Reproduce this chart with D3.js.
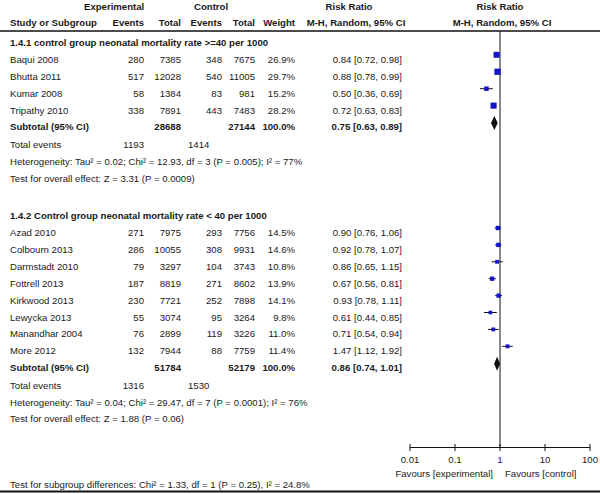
<!DOCTYPE html>
<html><head><meta charset="utf-8">
<script src="https://cdn.jsdelivr.net/npm/d3@7"></script>
<style>
html,body{margin:0;padding:0;background:#fff;}
text{font-family:"Liberation Sans",Arial,Helvetica,sans-serif;font-size:9.6px;fill:#1a1a1a;}
.b{font-weight:bold;}
</style></head><body>
<svg id="c" width="600" height="494"></svg>
<script>
// ---- data ----
const sectionTitles = ["1.4.1 control group neonatal mortality rate >=40 per 1000", "1.4.2 Control group neonatal mortality rate < 40 per 1000"];
const studies1 = ["Baqui 2008","Bhutta 2011","Kumar 2008","Tripathy 2010"];
const expEvents1 = [280,517,58,338];
const expTotal1 = [7385,12028,1384,7891];
const ctlEvents1 = [348,540,83,443];
const ctlTotal1 = [7675,11005,981,7483];
const weight1 = [26.9,29.7,15.2,28.2];
const rr1 = [0.84,0.88,0.50,0.72];
const lo1 = [0.72,0.78,0.36,0.63];
const hi1 = [0.98,0.99,0.69,0.83];

const studies2 = ["Azad 2010","Colbourn 2013","Darmstadt 2010","Fottrell 2013","Kirkwood 2013","Lewycka 2013","Manandhar 2004","More 2012"];
const expEvents2 = [271,286,79,187,230,55,76,132];
const expTotal2 = [7975,10055,3297,8819,7721,3074,2899,7944];
const ctlEvents2 = [293,308,104,271,252,95,119,88];
const ctlTotal2 = [7756,9931,3743,8602,7898,3264,3226,7759];
const weight2 = [14.5,14.6,10.8,13.9,14.1,9.8,11.0,11.4];
const rr2 = [0.90,0.92,0.86,0.67,0.93,0.61,0.71,1.47];
const lo2 = [0.76,0.78,0.65,0.56,0.78,0.44,0.54,1.12];
const hi2 = [1.06,1.07,1.15,0.81,1.11,0.85,0.94,1.92];

const subExpTotal = [28688,51784];
const subCtlTotal = [27144,52179];
const subRR = [0.75,0.86];
const subLo = [0.63,0.74];
const subHi = [0.89,1.01];
const totalExpEvents = [1193,1316];
const totalCtlEvents = [1414,1530];
const hetText = ["Heterogeneity: Tau\u00b2 = 0.02; Chi\u00b2 = 12.93, df = 3 (P = 0.005); I\u00b2 = 77%",
                 "Heterogeneity: Tau\u00b2 = 0.04; Chi\u00b2 = 29.47, df = 7 (P = 0.0001); I\u00b2 = 76%"];
const overallText = ["Test for overall effect: Z = 3.31 (P = 0.0009)", "Test for overall effect: Z = 1.88 (P = 0.06)"];
const subgroupText = "Test for subgroup differences: Chi\u00b2 = 1.33, df = 1 (P = 0.25), I\u00b2 = 24.8%";
const tickValues = [0.01,0.1,1,10,100];
const tickLabels = ["0.01","0.1","1","10","100"];
const favours = ["Favours [experimental]","Favours [control]"];

// ---- layout ----
const svg = d3.select("#c");
const x = d3.scaleLog().domain([0.01,100]).range([410,590]);
const colX = {study:10, expE:144, expT:181, ctlE:222, ctlT:255, w:295, rr:402};
const f2 = d3.format(".2f");
const ciStr = (r,l,h)=>`${f2(r)} [${f2(l)}, ${f2(h)}]`;

function txt(xp,yp,s,anchor,cls){
  return svg.append("text").attr("x",xp).attr("y",yp).attr("text-anchor",anchor||"start").attr("class",cls||"").text(s);
}

// header
txt(84,10,"Experimental","start","b");
txt(194,10,"Control","start","b");
txt(349,10,"Risk Ratio","middle","b");
txt(500,10,"Risk Ratio","middle","b");
txt(colX.study,26,"Study or Subgroup","start","b");
txt(colX.expE,26,"Events","end","b");
txt(colX.expT,26,"Total","end","b");
txt(colX.ctlE,26,"Events","end","b");
txt(colX.ctlT,26,"Total","end","b");
txt(colX.w,26,"Weight","end","b");
txt(356,26,"M-H, Random, 95% CI","middle","b");
txt(502,26,"M-H, Random, 95% CI","middle","b");
svg.append("line").attr("x1",0).attr("x2",600).attr("y1",31).attr("y2",31).attr("stroke","#111").attr("stroke-width",1.3);

// vertical no-effect line
svg.append("line").attr("x1",x(1)).attr("x2",x(1)).attr("y1",31).attr("y2",447.5).attr("stroke","#111").attr("stroke-width",1);

const sections = [
  {title:sectionTitles[0], titleY:45.5, y0:62.8, step:16.95, studies:studies1, eE:expEvents1, eT:expTotal1, cE:ctlEvents1, cT:ctlTotal1, w:weight1, rr:rr1, lo:lo1, hi:hi1},
  {title:sectionTitles[1], titleY:219, y0:236, step:16.9, studies:studies2, eE:expEvents2, eT:expTotal2, cE:ctlEvents2, cT:ctlTotal2, w:weight2, rr:rr2, lo:lo2, hi:hi2}
];

sections.forEach((s,si)=>{
  txt(colX.study,s.titleY,s.title,"start","b");
  const n = s.studies.length;
  s.studies.forEach((name,i)=>{
    const y = s.y0 + i*s.step;
    txt(colX.study,y,name);
    txt(colX.expE,y,s.eE[i],"end");
    txt(colX.expT,y,s.eT[i],"end");
    txt(colX.ctlE,y,s.cE[i],"end");
    txt(colX.ctlT,y,s.cT[i],"end");
    txt(colX.w,y,s.w[i].toFixed(1)+"%","end");
    txt(colX.rr,y,ciStr(s.rr[i],s.lo[i],s.hi[i]),"end");
    const my = y - 8;
    svg.append("line").attr("x1",x(s.lo[i])).attr("x2",x(s.hi[i])).attr("y1",my).attr("y2",my).attr("stroke","#111").attr("stroke-width",1);
    const side = 1.15*Math.sqrt(s.w[i]);
    svg.append("rect").attr("x",x(s.rr[i])-side/2).attr("y",my-side/2).attr("width",side).attr("height",side).attr("fill","#1515c8");
  });
  // subtotal
  const ys = s.y0 + n*s.step - 0.5;
  txt(colX.study,ys,"Subtotal (95% CI)","start","b");
  txt(colX.expT,ys,subExpTotal[si],"end","b");
  txt(colX.ctlT,ys,subCtlTotal[si],"end","b");
  txt(colX.w,ys,"100.0%","end","b");
  txt(colX.rr,ys,ciStr(subRR[si],subLo[si],subHi[si]),"end","b");
  const dy = ys - 7, hh = 7;
  svg.append("path").attr("d",`M${x(subLo[si])},${dy} L${x(subRR[si])},${dy-hh} L${x(subHi[si])},${dy} L${x(subRR[si])},${dy+hh} Z`).attr("fill","#111");
  // totals
  const yt = s.y0 + (n+1)*s.step + 0.5;
  txt(colX.study,yt,"Total events");
  txt(colX.expE,yt,totalExpEvents[si],"end");
  txt(188,yt,totalCtlEvents[si],"start");
  txt(colX.study,yt+s.step,hetText[si]);
  txt(colX.study,yt+2*s.step,overallText[si]);
});

// axis
const axisY = 447.5;
svg.append("line").attr("x1",x(0.01)).attr("x2",x(100)).attr("y1",axisY).attr("y2",axisY).attr("stroke","#111");
tickValues.forEach((v,i)=>{
  svg.append("line").attr("x1",x(v)).attr("x2",x(v)).attr("y1",axisY-3.5).attr("y2",axisY+3.5).attr("stroke","#111");
  txt(x(v),463,tickLabels[i],"middle");
});
txt(493,477,favours[0],"end");
txt(505,477,favours[1],"start");

txt(colX.study,488,subgroupText);
svg.append("line").attr("x1",0).attr("x2",600).attr("y1",491.5).attr("y2",491.5).attr("stroke","#111").attr("stroke-width",2);
</script></body></html>
